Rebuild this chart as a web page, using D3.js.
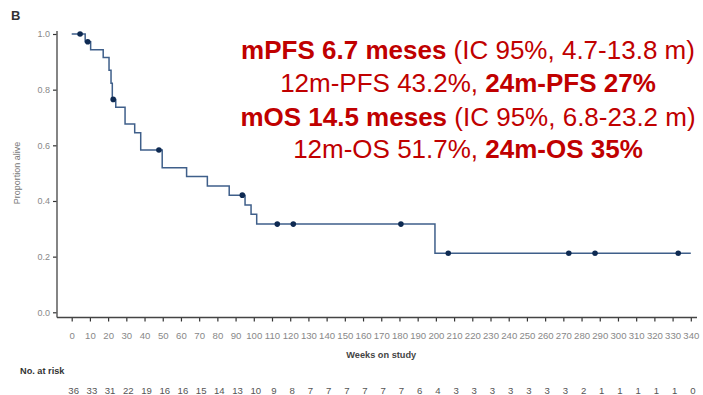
<!DOCTYPE html>
<html>
<head>
<meta charset="utf-8">
<script src="https://cdn.jsdelivr.net/npm/d3@7"></script>
<style>
  html, body { margin: 0; padding: 0; background: #fff; }
  svg { display: block; font-family: "Liberation Sans", Arial, sans-serif; }
</style>
</head>
<body>
<svg id="chart" width="703" height="395"></svg>
<script>
// Kaplan-Meier step curve: times (weeks) where survival changes, and the level after each step
const stepTimes  = [0, 7.4, 10.4, 17.3, 20.5, 21.6, 22.3, 24.2, 29.3, 34.6, 37.9, 49.7, 63.1, 74.5, 86.5, 95.2, 98.5, 101.6, 199.5];
const stepValues = [1.0, 0.972, 0.943, 0.916, 0.870, 0.823, 0.765, 0.737, 0.677, 0.645, 0.583, 0.519, 0.488, 0.454, 0.421, 0.386, 0.352, 0.317, 0.212];
const lastTime = 340;

// Censored observations (weeks)
const censorTimes = [4.6, 8.8, 22.8, 47.9, 93.7, 112.9, 121.7, 180.8, 206.8, 273.0, 287.4, 333.1];

// Axis ticks
const xTicks = d3.range(0, 341, 10);
const yTicks = [0, 0.2, 0.4, 0.6, 0.8, 1.0];

// Number at risk at each x tick
const atRisk = [36, 33, 31, 22, 19, 16, 16, 15, 14, 13, 10, 9, 8, 7, 7, 7, 7, 7, 7, 6, 4, 3, 3, 3, 3, 3, 3, 3, 2, 1, 1, 1, 1, 1, 0];

// Summary lines: arrays of [text, bold]
const summaryLines = [
  [["mPFS 6.7 meses", true], [" (IC 95%, 4.7-13.8 m)", false]],
  [["12m-PFS 43.2%, ", false], ["24m-PFS 27%", true]],
  [["mOS 14.5 meses", true], [" (IC 95%, 6.8-23.2 m)", false]],
  [["12m-OS 51.7%, ", false], ["24m-OS 35%", true]]
];

const svg = d3.select("#chart");
const x = d3.scaleLinear().domain([0, 340]).range([71.7, 690.8]);
const y = d3.scaleLinear().domain([0, 1]).range([312.3, 34]);
const axisY0 = 317.5;   // x-axis baseline sits slightly below y = 0
const axisX0 = 57;      // y-axis position

// survival at time t (right-continuous step function)
function survAt(t) {
  let s = stepValues[0];
  for (let i = 0; i < stepTimes.length; i++) if (stepTimes[i] <= t) s = stepValues[i];
  return s;
}

// Panel label
svg.append("text").attr("x", 11).attr("y", 20)
  .attr("font-size", 13).attr("font-weight", "bold").attr("fill", "#333").text("B");

// Y axis
const yAxis = d3.axisLeft(y).tickValues(yTicks).tickFormat(d3.format(".1f")).tickSize(4).tickPadding(3);
const gy = svg.append("g").attr("transform", `translate(${axisX0},0)`).call(yAxis);
gy.select(".domain").remove();
gy.selectAll(".tick line").attr("stroke", "#333").attr("stroke-width", 1.2);
gy.selectAll(".tick text").attr("font-size", 9).attr("fill", "#888").attr("font-family", "Liberation Sans, Arial, sans-serif");
svg.append("line").attr("x1", axisX0).attr("x2", axisX0).attr("y1", 31).attr("y2", axisY0)
  .attr("stroke", "#666").attr("stroke-width", 1.6);

// X axis
const xAxis = d3.axisBottom(x).tickValues(xTicks).tickFormat(d3.format("d")).tickSize(4).tickPadding(11);
const gx = svg.append("g").attr("transform", `translate(0,${axisY0})`).call(xAxis);
gx.select(".domain").remove();
gx.selectAll(".tick line").attr("stroke", "#333").attr("stroke-width", 1.2);
gx.selectAll(".tick text").attr("font-size", 9.6).attr("fill", "#888").attr("font-family", "Liberation Sans, Arial, sans-serif");
svg.append("line").attr("x1", axisX0).attr("x2", 697).attr("y1", axisY0).attr("y2", axisY0)
  .attr("stroke", "#444").attr("stroke-width", 1.4);

// Axis titles
svg.append("text").attr("transform", "translate(20,173) rotate(-90)")
  .attr("text-anchor", "middle").attr("font-size", 9).attr("fill", "#777").text("Proportion alive");
svg.append("text").attr("x", x(170)).attr("y", 358)
  .attr("text-anchor", "middle").attr("font-size", 9.2).attr("font-weight", "bold").attr("fill", "#444").text("Weeks on study");

// Survival curve
const pts = stepTimes.map((t, i) => [t, stepValues[i]]);
pts.push([lastTime, stepValues[stepValues.length - 1]]);
const line = d3.line().x(d => x(d[0])).y(d => y(d[1])).curve(d3.curveStepAfter);
svg.append("path").datum(pts).attr("d", line)
  .attr("fill", "none").attr("stroke", "#3f5f8a").attr("stroke-width", 1.5);

// Censor marks
svg.selectAll("circle.censor").data(censorTimes).join("circle")
  .attr("class", "censor")
  .attr("cx", d => x(d)).attr("cy", d => y(survAt(d))).attr("r", 2.8)
  .attr("fill", "#0e2a52");

// Number at risk table
svg.append("text").attr("x", 20).attr("y", 374)
  .attr("font-size", 9.2).attr("font-weight", "bold").attr("fill", "#333").text("No. at risk");
svg.selectAll("text.risk").data(atRisk).join("text")
  .attr("class", "risk")
  .attr("x", (d, i) => x(xTicks[i]) + 2).attr("y", 394)
  .attr("text-anchor", "middle").attr("font-size", 9.6).attr("fill", "#555").text(d => d);

// Summary annotation
const baselines = [59, 92, 126, 158];
summaryLines.forEach((parts, i) => {
  const t = svg.append("text").attr("x", 468).attr("y", baselines[i])
    .attr("text-anchor", "middle").attr("font-size", 26).attr("fill", "#c00000")
    .attr("font-family", "Liberation Sans, Arial, sans-serif");
  parts.forEach(p => t.append("tspan").attr("font-weight", p[1] ? "bold" : "normal").text(p[0]));
});
</script>
</body>
</html>
